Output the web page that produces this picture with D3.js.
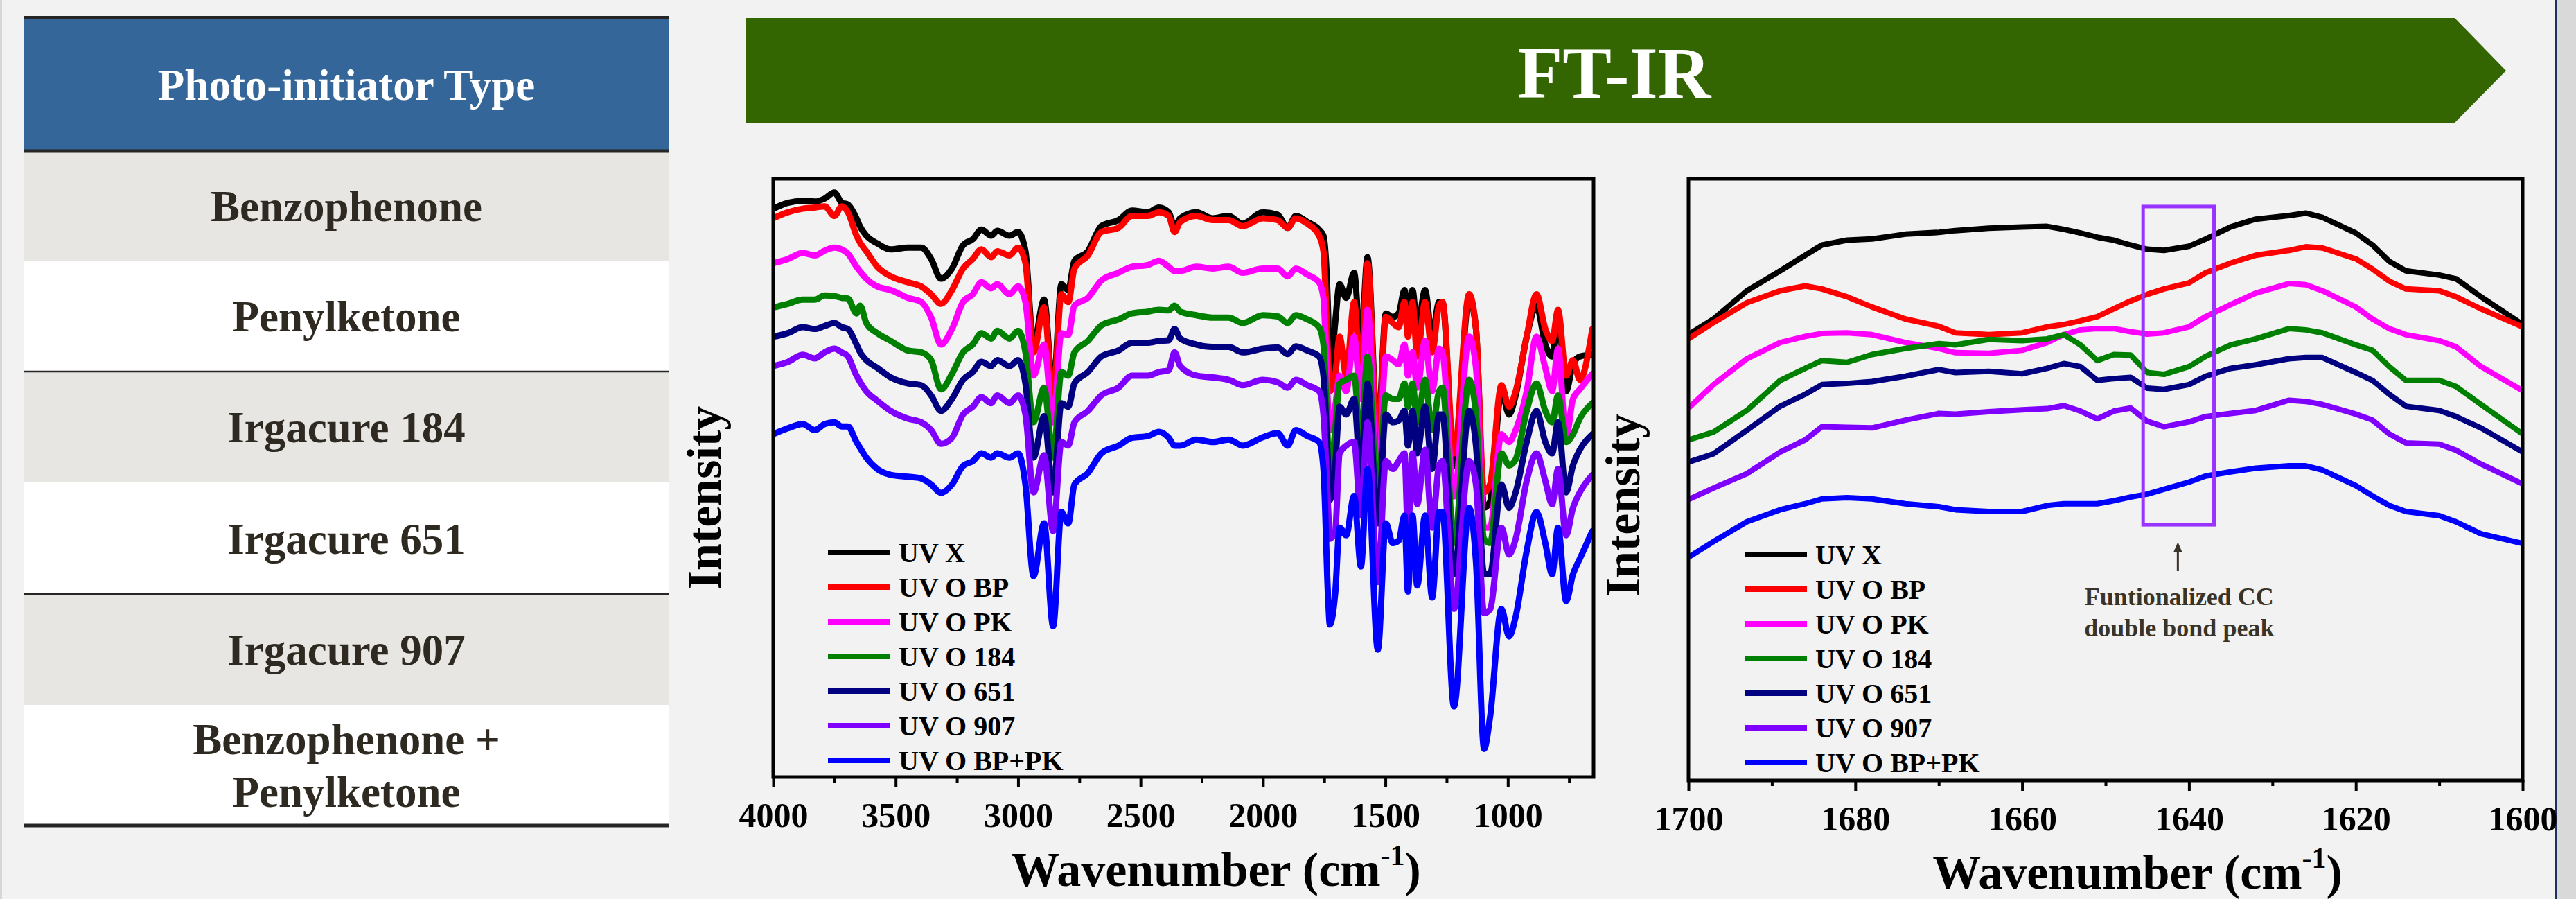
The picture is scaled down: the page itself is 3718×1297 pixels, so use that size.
<!DOCTYPE html>
<html>
<head>
<meta charset="utf-8">
<title>FT-IR photo-initiator spectra</title>
<script src="https://cdn.jsdelivr.net/npm/d3@7"></script>
<style>
body { margin: 0; background: #f2f2f2; }
svg { display: block; font-family: "Liberation Serif", "Times New Roman", serif; font-weight: bold; }
</style>
</head>
<body>
<script>

// ---- data ----
var tableTitle = "Photo-initiator Type";
var tableRows = [["Benzophenone"], ["Penylketone"], ["Irgacure 184"], ["Irgacure 651"], ["Irgacure 907"], ["Benzophenone +", "Penylketone"]];
var bannerText = "FT-IR";

var seriesNames = ["UV X", "UV O BP", "UV O PK", "UV O 184", "UV O 651", "UV O 907", "UV O BP+PK"];
var seriesColors = ["#000000", "#ff0000", "#ff00ff", "#008000", "#000080", "#8000ff", "#0000ff"];

var fullTicks = [4000, 3500, 3000, 2500, 2000, 1500, 1000];
var fullMinor = [3750, 3250, 2750, 2250, 1750, 1250, 750];
var zoomTicks = [1700, 1680, 1660, 1640, 1620, 1600];
var zoomMinor = [1690, 1670, 1650, 1630, 1610];

// full range spectra (wavenumber, intensity a.u.)
var wnFull = [4000, 3940, 3880, 3830, 3790, 3750, 3720, 3695, 3660, 3645,
  3620, 3575, 3520, 3450, 3395, 3355, 3315, 3270, 3225, 3185,
  3150, 3110, 3085, 3035, 3000, 2970, 2937, 2894, 2857, 2823,
  2795, 2770, 2715, 2660, 2590, 2535, 2470, 2425, 2385, 2361,
  2338, 2272, 2205, 2140, 2083, 2000, 1940, 1899, 1866, 1819,
  1771, 1753, 1734, 1727, 1705, 1687, 1660, 1628, 1600, 1573,
  1531, 1498, 1470, 1446, 1422, 1408, 1389, 1370, 1338, 1309,
  1281, 1267, 1220, 1158, 1130, 1097, 1073, 1026, 995, 968,
  923, 883, 847, 819, 795, 762, 734, 706, 655];

var fullUVX = [95.0, 96.0, 96.3, 96.2, 96.7, 97.7, 96.0, 95.7, 93.4, 92.0,
  90.5, 89.2, 88.2, 88.5, 88.5, 86.6, 83.3, 85.0, 88.9, 89.9,
  91.5, 90.5, 91.3, 90.5, 91.1, 87.9, 72.3, 79.8, 64.5, 82.4,
  81.4, 86.3, 87.9, 92.1, 93.1, 94.7, 94.4, 95.2, 94.4, 92.1,
  93.4, 94.4, 93.4, 93.8, 92.5, 94.4, 94.0, 91.8, 93.8, 92.8,
  91.5, 90.5, 77.5, 66.4, 76.0, 82.4, 80.1, 84.3, 72.0, 86.9,
  57.0, 77.5, 76.9, 77.5, 81.4, 77.5, 81.4, 74.9, 81.4, 73.6,
  79.4, 79.4, 52.0, 80.1, 74.9, 45.0, 46.0, 64.5, 60.6, 63.8,
  73.6, 78.8, 72.3, 70.3, 77.5, 64.5, 69.0, 70.3, 70.6];

var fullBP = [93.4, 94.4, 95.0, 95.2, 95.4, 93.8, 95.4, 94.4, 90.5, 89.3,
  87.9, 85.3, 83.7, 82.7, 82.0, 80.7, 79.1, 81.4, 85.0, 86.6,
  88.2, 86.9, 87.9, 87.2, 88.5, 85.9, 71.0, 78.5, 63.2, 80.7,
  79.4, 85.0, 87.2, 91.1, 91.8, 93.8, 93.8, 94.4, 93.8, 91.1,
  92.8, 93.8, 93.1, 93.1, 92.1, 93.4, 93.1, 91.8, 93.4, 92.5,
  90.5, 87.9, 70.0, 64.5, 67.1, 73.6, 67.1, 79.4, 67.1, 85.9,
  55.5, 76.9, 75.9, 75.2, 79.4, 73.6, 79.4, 70.3, 79.4, 71.0,
  78.8, 79.4, 54.1, 80.7, 74.9, 47.6, 48.9, 65.5, 61.9, 64.5,
  73.6, 80.7, 74.9, 72.9, 78.1, 67.1, 69.7, 66.4, 74.9];

var fullPK = [85.9, 86.6, 87.6, 87.2, 88.0, 88.5, 88.2, 87.5, 85.3, 84.5,
  83.3, 82.0, 81.4, 80.1, 79.4, 76.8, 72.3, 74.9, 79.4, 80.7,
  82.7, 81.7, 82.4, 80.7, 82.0, 79.4, 67.1, 72.3, 59.3, 74.2,
  73.9, 78.8, 80.1, 83.0, 84.3, 85.3, 85.6, 86.3, 85.3, 84.6,
  84.6, 85.3, 85.0, 85.3, 84.3, 85.0, 85.0, 83.7, 85.0, 84.0,
  82.7, 80.1, 62.0, 58.0, 61.9, 67.1, 64.5, 73.6, 63.2, 78.1,
  48.9, 70.3, 69.7, 69.0, 72.3, 67.1, 71.0, 65.1, 72.9, 64.5,
  71.6, 71.0, 46.9, 73.6, 68.4, 41.7, 41.7, 57.3, 56.0, 58.0,
  64.5, 73.6, 68.4, 64.5, 71.6, 56.7, 63.2, 64.8, 67.4];

var full184 = [78.5, 79.1, 79.8, 79.8, 80.5, 80.4, 80.1, 80.0, 77.5, 78.8,
  75.9, 74.2, 72.9, 71.3, 71.0, 69.7, 64.8, 67.4, 71.0, 72.3,
  74.2, 73.3, 74.6, 73.3, 74.6, 71.0, 59.3, 65.1, 53.4, 67.7,
  67.1, 71.0, 72.9, 75.5, 76.5, 77.5, 77.8, 78.1, 78.0, 78.8,
  77.8, 77.2, 76.8, 76.8, 75.9, 77.2, 77.0, 75.9, 77.2, 76.5,
  75.2, 72.3, 55.0, 49.5, 58.0, 65.8, 66.4, 67.1, 55.4, 70.3,
  46.9, 63.8, 63.2, 63.2, 65.8, 61.9, 65.8, 59.3, 66.4, 58.0,
  64.5, 65.1, 39.1, 66.4, 60.6, 39.8, 39.1, 54.1, 52.1, 53.1,
  61.2, 65.8, 61.2, 59.3, 63.8, 56.0, 57.3, 59.9, 62.5];

var full651 = [73.6, 74.2, 75.2, 74.9, 75.4, 75.9, 75.2, 74.9, 72.3, 71.0,
  69.7, 68.4, 66.8, 65.8, 65.5, 63.8, 61.2, 63.2, 66.4, 67.7,
  69.4, 68.7, 69.7, 68.7, 69.7, 65.8, 53.4, 60.3, 47.6, 62.5,
  61.9, 65.8, 67.7, 70.3, 71.3, 72.6, 72.6, 72.9, 73.0, 74.9,
  73.3, 72.3, 71.9, 71.9, 71.0, 71.6, 71.8, 70.7, 72.0, 71.3,
  70.3, 67.1, 52.0, 46.3, 52.0, 61.9, 60.6, 63.2, 50.2, 65.8,
  42.4, 60.6, 59.3, 59.6, 61.2, 55.4, 61.2, 54.1, 61.9, 51.5,
  60.6, 60.6, 33.9, 61.2, 55.4, 33.9, 33.9, 48.9, 45.0, 47.6,
  56.0, 61.2, 56.0, 54.1, 59.3, 47.6, 52.1, 54.7, 57.3];

var full907 = [68.7, 69.4, 70.6, 70.0, 71.0, 71.6, 71.0, 70.3, 67.1, 66.0,
  64.5, 62.9, 61.2, 59.9, 59.3, 58.0, 55.7, 56.7, 60.6, 61.9,
  63.5, 62.5, 63.8, 62.5, 63.8, 60.6, 47.6, 53.8, 41.1, 56.0,
  55.4, 59.3, 61.2, 63.8, 65.1, 67.1, 67.1, 67.7, 68.0, 71.0,
  68.7, 67.1, 66.8, 66.4, 65.5, 66.4, 66.0, 65.1, 66.4, 65.5,
  64.5, 60.6, 45.0, 39.8, 41.1, 54.1, 55.4, 56.0, 43.7, 59.3,
  32.6, 52.8, 51.5, 52.8, 54.1, 41.1, 54.1, 45.6, 54.7, 41.7,
  52.1, 52.8, 28.1, 52.8, 48.9, 27.4, 28.0, 41.7, 37.2, 39.8,
  49.5, 54.1, 49.5, 45.6, 51.5, 40.4, 45.0, 47.6, 50.5];

var fullBPPK = [57.3, 58.3, 59.0, 58.0, 59.0, 59.3, 58.6, 58.6, 56.0, 55.0,
  53.4, 51.5, 50.5, 50.2, 49.9, 48.9, 47.5, 48.9, 52.0, 52.8,
  54.1, 53.4, 54.1, 53.4, 54.1, 48.9, 33.6, 42.4, 25.2, 44.3,
  42.4, 48.9, 50.8, 54.1, 55.4, 56.7, 57.0, 57.7, 56.7, 55.4,
  55.4, 56.4, 56.0, 56.4, 55.4, 56.8, 57.5, 55.4, 58.0, 57.0,
  56.0, 51.5, 30.0, 25.5, 30.7, 41.7, 40.4, 47.0, 35.2, 51.5,
  21.3, 42.4, 39.1, 39.5, 43.7, 31.0, 43.7, 32.0, 43.7, 30.0,
  44.3, 44.3, 11.8, 45.0, 35.9, 4.7, 9.9, 28.1, 23.5, 26.8,
  37.8, 44.3, 39.1, 33.9, 41.7, 29.4, 33.9, 36.5, 41.1];

// 1700-1600 cm-1 detail
var wnZoom = [1700, 1697, 1693, 1689, 1686, 1684, 1681, 1678, 1674, 1670,
  1668, 1664, 1660, 1657, 1655, 1653, 1651, 1649, 1647, 1645,
  1643, 1640, 1638, 1635, 1632, 1628, 1626, 1624, 1620, 1618,
  1616, 1614, 1610, 1608, 1605, 1600];

var zoomUVX = [74.1, 76.7, 81.4, 84.7, 87.3, 89.0, 89.8, 90.0, 90.8, 91.1,
  91.4, 91.8, 92.0, 92.1, 91.6, 91.0, 90.3, 89.8, 89.0, 88.3,
  88.1, 88.8, 90.0, 92.0, 93.3, 93.9, 94.3, 93.6, 91.0, 89.0,
  86.3, 84.7, 84.0, 83.4, 80.4, 75.8];
var zoomBP = [73.4, 76.1, 79.4, 81.4, 82.2, 81.7, 80.4, 78.7, 76.7, 75.5,
  74.4, 74.1, 74.4, 75.4, 75.8, 76.4, 77.1, 78.4, 79.7, 80.8,
  81.7, 82.7, 84.4, 86.0, 87.3, 88.1, 88.7, 88.5, 86.7, 85.0,
  83.0, 81.7, 81.4, 80.4, 78.4, 75.4];
var zoomPK = [61.9, 65.8, 70.1, 72.8, 73.8, 74.3, 74.4, 74.1, 72.8, 71.8,
  71.1, 71.0, 71.5, 72.8, 74.1, 74.9, 75.1, 75.1, 74.6, 74.2,
  74.4, 75.4, 77.1, 79.1, 81.0, 82.6, 82.4, 81.4, 78.7, 76.7,
  75.1, 74.1, 73.1, 72.1, 68.8, 64.8];
var zoom184 = [56.6, 57.9, 61.5, 66.5, 68.5, 69.8, 69.5, 70.8, 71.8, 72.6,
  72.4, 73.3, 73.1, 73.4, 74.1, 72.4, 69.8, 70.8, 70.7, 67.8,
  67.5, 68.8, 70.5, 72.4, 73.4, 75.1, 74.9, 74.4, 72.4, 71.5,
  68.8, 66.5, 66.5, 65.5, 62.5, 57.6];
var zoom651 = [52.9, 54.3, 58.2, 62.2, 64.2, 65.8, 66.0, 66.3, 67.2, 68.3,
  67.8, 68.0, 67.6, 68.5, 69.3, 68.8, 66.5, 66.8, 67.0, 65.2,
  65.0, 65.8, 67.2, 68.5, 69.1, 70.1, 70.3, 70.3, 67.8, 66.5,
  64.2, 62.2, 61.5, 60.5, 58.6, 54.6];
var zoom907 = [46.7, 48.6, 51.0, 54.6, 56.6, 58.8, 58.7, 58.6, 59.9, 61.0,
  60.9, 61.3, 61.6, 61.8, 62.3, 61.4, 60.1, 61.4, 61.9, 59.7,
  58.8, 59.6, 60.5, 61.0, 61.5, 63.2, 63.0, 62.5, 60.9, 59.9,
  57.6, 56.1, 55.9, 54.9, 52.6, 49.3];
var zoomBPPK = [37.1, 39.7, 43.0, 45.0, 46.0, 46.8, 47.0, 46.8, 46.0, 45.5,
  45.0, 44.7, 44.7, 45.7, 46.0, 46.0, 46.0, 46.5, 47.1, 47.6,
  48.4, 49.6, 50.6, 51.3, 51.9, 52.3, 52.3, 51.6, 49.0, 47.3,
  45.7, 44.7, 44.0, 43.0, 41.0, 39.4];

// highlighted C=C region in the detail panel
var peakBox = {from: 1645.5, to: 1637, low: 42.5, high: 95.4};
var peakNote = ["Funtionalized CC", "double bond peak"];

var fullSeries = [fullUVX, fullBP, fullPK, full184, full651, full907, fullBPPK];
var zoomSeries = [zoomUVX, zoomBP, zoomPK, zoom184, zoom651, zoom907, zoomBPPK];

// ---- drawing ----
var W = 3718, H = 1297;

var svg = d3.select("body").append("svg")
    .attr("width", W)
    .attr("height", H);

svg.append("rect").attr("width", W).attr("height", H).attr("fill", "#f2f2f2");
svg.append("rect").attr("x", 0).attr("width", 3).attr("height", H).attr("fill", "#d6d6d6");
svg.append("rect").attr("x", 3689).attr("width", W - 3689).attr("height", H).attr("fill", "#d9d9d9");
svg.append("line").attr("x1", 3689).attr("x2", 3689).attr("y1", 0).attr("y2", H)
    .attr("stroke", "#1f3060").attr("stroke-width", 3);

// table on the left
var tbl = svg.append("g");
var rowEdges = [218, 376, 536, 696, 857, 1017, 1191];

tbl.append("rect").attr("x", 35).attr("y", 25).attr("width", 930).attr("height", 193)
    .attr("fill", "#346699");
tbl.append("text").attr("x", 500).attr("y", 144)
    .attr("text-anchor", "middle").attr("fill", "#ffffff")
    .style("font-size", "63px").text(tableTitle);

tableRows.forEach(function(r, i) {
  var y0 = rowEdges[i], y1 = rowEdges[i + 1];
  tbl.append("rect").attr("x", 35).attr("y", y0).attr("width", 930).attr("height", y1 - y0)
      .attr("fill", i % 2 === 0 ? "#e7e6e3" : "#ffffff");
  var mid = (y0 + y1) / 2;
  r.forEach(function(t, j) {
    tbl.append("text").attr("x", 500)
        .attr("y", mid + 22 + (j - (r.length - 1) / 2) * 76)
        .attr("text-anchor", "middle").attr("fill", "#2e2a21")
        .style("font-size", "63px").text(t);
  });
});

[[25, 4], [218, 5], [536, 2.5], [857, 2.5], [1191, 5]].forEach(function(l) {
  tbl.append("line").attr("x1", 35).attr("x2", 965).attr("y1", l[0]).attr("y2", l[0])
      .attr("stroke", "#262626").attr("stroke-width", l[1]);
});

// banner arrow
svg.append("polygon")
    .attr("points", [[1076, 26], [3543, 26], [3617, 102], [3543, 177], [1076, 177]].join(" "))
    .attr("fill", "#336600");
svg.append("text").attr("x", 2330).attr("y", 141)
    .attr("text-anchor", "middle").attr("fill", "#ffffff")
    .style("font-size", "106px").text(bannerText);

function panel(cfg) {
  var g = svg.append("g");
  var x = d3.scaleLinear().domain(cfg.xDomain).range([cfg.left, cfg.right]);
  var y = d3.scaleLinear().domain([0, 100]).range([cfg.bottom, cfg.top]);

  g.append("clipPath").attr("id", cfg.id)
    .append("rect").attr("x", cfg.left).attr("y", cfg.top)
      .attr("width", cfg.right - cfg.left).attr("height", cfg.bottom - cfg.top);

  var line = d3.line()
      .x(function(d) { return x(d[0]); })
      .y(function(d) { return y(d[1]); })
      .curve(cfg.curve);

  var lines = g.append("g").attr("clip-path", "url(#" + cfg.id + ")");
  cfg.series.forEach(function(vals, i) {
    lines.append("path")
        .datum(cfg.wn.map(function(w, k) { return [w, vals[k]]; }))
        .attr("d", line)
        .attr("fill", "none")
        .attr("stroke", seriesColors[i])
        .attr("stroke-width", cfg.lineWidth)
        .attr("stroke-linejoin", "round")
        .attr("stroke-linecap", "round");
  });

  // axes
  var major = g.append("g").attr("transform", "translate(0," + cfg.bottom + ")")
      .call(d3.axisBottom(x).tickValues(cfg.ticks).tickSize(15).tickSizeOuter(0)
        .tickPadding(cfg.pad).tickFormat(d3.format("d")));
  var minor = g.append("g").attr("transform", "translate(0," + cfg.bottom + ")")
      .call(d3.axisBottom(x).tickValues(cfg.minor).tickSize(8).tickSizeOuter(0).tickFormat(""));
  [major, minor].forEach(function(a) {
    a.select(".domain").remove();
    a.selectAll(".tick line").attr("stroke", "#000").attr("stroke-width", 4);
  });
  major.selectAll(".tick text")
      .attr("fill", "#000")
      .style("font-size", "50px")
      .style("font-family", "'Liberation Serif', 'Times New Roman', serif")
      .style("font-weight", "bold");

  g.append("rect").attr("x", cfg.left).attr("y", cfg.top)
      .attr("width", cfg.right - cfg.left).attr("height", cfg.bottom - cfg.top)
      .attr("fill", "none").attr("stroke", "#000").attr("stroke-width", 5);

  // axis titles
  var xt = g.append("text").attr("x", cfg.titleX).attr("y", cfg.titleY)
      .attr("text-anchor", "middle").attr("fill", "#000").style("font-size", "70px");
  xt.append("tspan").text("Wavenumber (cm");
  xt.append("tspan").attr("dy", -30).style("font-size", "42px").text("-1");
  xt.append("tspan").attr("dy", 30).text(")");

  g.append("text")
      .attr("transform", "translate(" + cfg.yTitleX + "," + cfg.yTitleY + ") rotate(-90)")
      .attr("text-anchor", "middle").attr("fill", "#000")
      .style("font-size", "70px").text("Intensity");

  // legend
  var lg = g.append("g");
  seriesNames.forEach(function(n, i) {
    var ly = cfg.legendY + i * 50;
    lg.append("line").attr("x1", cfg.legendX).attr("x2", cfg.legendX + 90)
        .attr("y1", ly).attr("y2", ly)
        .attr("stroke", seriesColors[i]).attr("stroke-width", 8);
    lg.append("text").attr("x", cfg.legendX + 102).attr("y", ly + 14)
        .attr("fill", "#000").style("font-size", "40px").text(n);
  });

  return {x: x, y: y, g: g};
}

panel({
  id: "clipFull", xDomain: [4000, 650], left: 1116, right: 2300, top: 258, bottom: 1121,
  wn: wnFull, series: fullSeries, curve: d3.curveMonotoneX, lineWidth: 9,
  ticks: fullTicks, minor: fullMinor, pad: 21,
  titleX: 1755, titleY: 1278, yTitleX: 1040, yTitleY: 718,
  legendX: 1195, legendY: 797
});

var right = panel({
  id: "clipZoom", xDomain: [1700, 1600], left: 2437, right: 3641, top: 258, bottom: 1126,
  wn: wnZoom, series: zoomSeries, curve: d3.curveLinear, lineWidth: 8,
  ticks: zoomTicks, minor: zoomMinor, pad: 21,
  titleX: 3085, titleY: 1282, yTitleX: 2366, yTitleY: 729,
  legendX: 2518, legendY: 800
});

// C=C highlight box and note
var xr = right.x, yr = right.y;
right.g.append("rect")
    .attr("x", xr(peakBox.from)).attr("y", yr(peakBox.high))
    .attr("width", xr(peakBox.to) - xr(peakBox.from))
    .attr("height", yr(peakBox.low) - yr(peakBox.high))
    .attr("fill", "none").attr("stroke", "#9933ff").attr("stroke-width", 5);

var noteX = xr((peakBox.from + peakBox.to) / 2) - 1;
right.g.append("line")
    .attr("x1", noteX).attr("x2", noteX).attr("y1", 824).attr("y2", 794)
    .attr("stroke", "#3a3428").attr("stroke-width", 3);
right.g.append("path")
    .attr("d", "M" + (noteX - 6) + ",796 L" + noteX + ",782 L" + (noteX + 6) + ",796 Z")
    .attr("fill", "#3a3428");
peakNote.forEach(function(t, i) {
  right.g.append("text").attr("x", noteX + 2).attr("y", 873 + i * 45)
      .attr("text-anchor", "middle").attr("fill", "#3a3428")
      .style("font-size", "36px").text(t);
});

</script>
</body>
</html>
